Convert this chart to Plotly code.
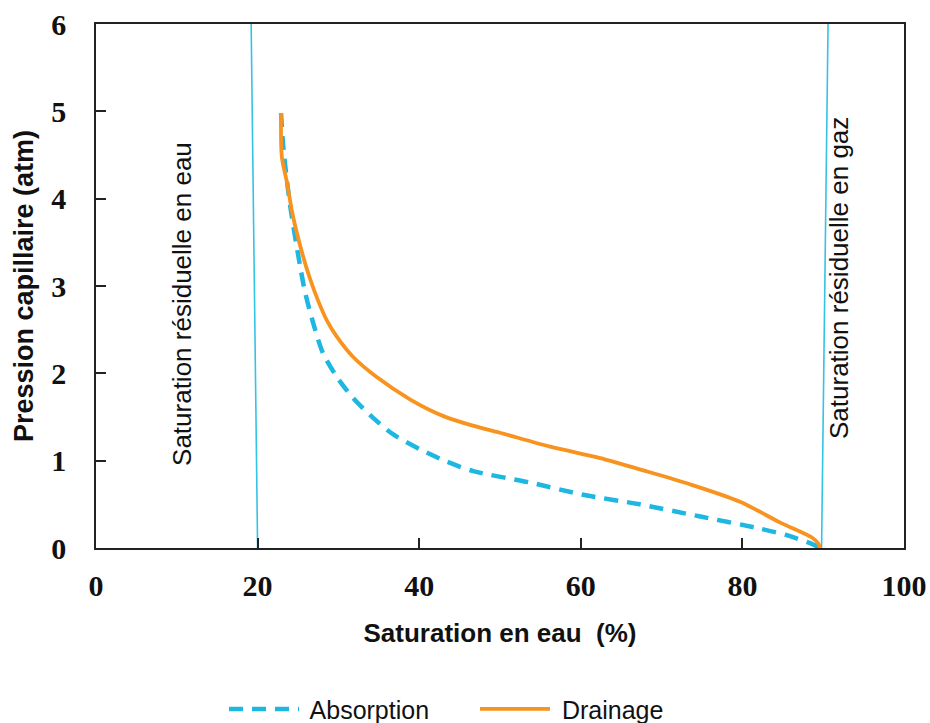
import plotly.graph_objects as go

# Capillary pressure curves (water saturation % vs pressure atm)
absorption_sw = [22.9, 23.2, 24.0, 25.2, 25.9, 26.9, 28.1, 29.8, 31.8, 34.3, 36.8, 40.1,
                 43.4, 46.7, 53.7, 60.3, 67.3, 74.8, 81.8, 85.9, 89.0, 89.5]
absorption_pc = [4.98, 4.57, 3.94, 3.26, 2.92, 2.57, 2.23, 1.96, 1.72, 1.49, 1.30, 1.13,
                 0.99, 0.88, 0.75, 0.61, 0.50, 0.36, 0.23, 0.135, 0.03, 0.0]

drainage_sw = [22.9, 23.0, 23.6, 24.4, 25.6, 26.5, 27.5, 28.6, 29.8, 31.8, 34.7, 38.9, 43.0,
               46.3, 50.0, 56.2, 62.4, 67.3, 73.5, 79.7, 84.7, 88.6, 89.4, 89.6]
drainage_pc = [4.98, 4.48, 4.2, 3.79, 3.35, 3.08, 2.83, 2.60, 2.42, 2.19, 1.96, 1.70, 1.51,
               1.41, 1.32, 1.16, 1.03, 0.90, 0.73, 0.53, 0.29, 0.12, 0.05, 0.0]

# Residual saturation limits (vertical markers)
swr_x = [19.2, 20.0]
sgr_x = [90.6, 89.8]
limit_y = [6, 0]

x_ticks = [0, 20, 40, 60, 80, 100]
y_ticks = [0, 1, 2, 3, 4, 5, 6]

CYAN = "#1DB7E2"
LIMIT = "#34C3E6"
ORANGE = "#F7931E"

L, R, T, B = 96, 26, 23.5, 174.5
W, H = 930, 723
pw, ph = W - L - R, H - T - B


def px_to_paper(xp, yp):
    return (xp - L) / pw, (H - B - yp) / ph


fig = go.Figure()

fig.add_trace(go.Scatter(x=swr_x, y=limit_y, mode="lines",
                         line=dict(color=LIMIT, width=1.6), showlegend=False, hoverinfo="skip"))
fig.add_trace(go.Scatter(x=sgr_x, y=limit_y, mode="lines",
                         line=dict(color=LIMIT, width=1.6), showlegend=False, hoverinfo="skip"))

fig.add_trace(go.Scatter(x=absorption_sw, y=absorption_pc, mode="lines", name=" Absorption",
                         line=dict(color=CYAN, width=4.5, dash="14px,9px", shape="spline",
                                   smoothing=0.8)))
fig.add_trace(go.Scatter(x=drainage_sw, y=drainage_pc, mode="lines", name=" Drainage",
                         line=dict(color=ORANGE, width=3.8, shape="spline", smoothing=0.8)))

axis_common = dict(
    showline=True, linecolor="#222222", linewidth=1.6, mirror=True,
    ticks="inside", ticklen=10, tickwidth=1.6, tickcolor="#222222",
    showgrid=False, zeroline=False, automargin=False,
    tickfont=dict(family="Liberation Serif", size=30, color="#111111", weight="bold"),
)

fig.update_xaxes(range=[0, 100], tickvals=x_ticks, ticklabelstandoff=10,
                 title=dict(text="Saturation en eau  (%)", standoff=23,
                            font=dict(family="Liberation Sans", size=26, color="#111111",
                                      weight="bold")),
                 **axis_common)
fig.update_yaxes(range=[0, 6], tickvals=y_ticks, ticklabelstandoff=22,
                 title=dict(text="Pression capillaire (atm)", standoff=10,
                            font=dict(family="Liberation Sans", size=27, color="#111111",
                                      weight="bold")),
                 **axis_common)

ax, ay = px_to_paper(165, 304)
fig.add_annotation(text="Saturation résiduelle en eau", x=ax, y=ay, xref="paper", yref="paper",
                   showarrow=False, textangle=-90,
                   font=dict(family="Liberation Sans", size=26, color="#111111"))
ax, ay = px_to_paper(856, 278)
fig.add_annotation(text="Saturation résiduelle en gaz", x=ax, y=ay, xref="paper", yref="paper",
                   showarrow=False, textangle=-90,
                   font=dict(family="Liberation Sans", size=26, color="#111111"))

lx, ly = px_to_paper(224, 710)
fig.update_layout(
    width=W, height=H,
    margin=dict(l=L, r=R, t=T, b=B, autoexpand=False),
    paper_bgcolor="white", plot_bgcolor="white",
    legend=dict(orientation="h", x=lx, xanchor="left", y=ly, yanchor="middle",
                itemwidth=70, entrywidth=166, entrywidthmode="pixels",
                font=dict(family="Liberation Sans", size=25, color="#111111"),
                tracegroupgap=0),
    showlegend=True,
)

fig.write_html("out.html")
